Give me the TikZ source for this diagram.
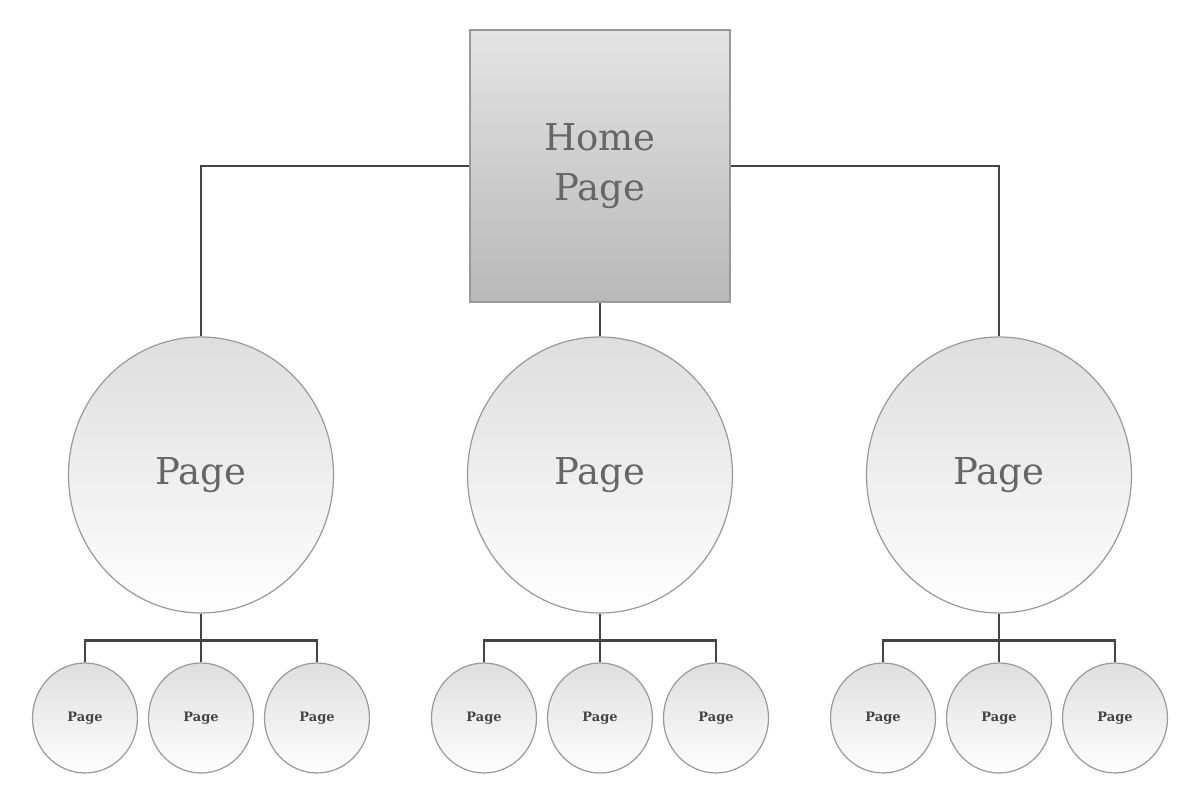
\documentclass[tikz,border=0pt]{standalone}
\usepackage{fontspec}
\setmainfont{DejaVu Serif}
\usetikzlibrary{shapes.geometric}
\definecolor{boxtop}{HTML}{E4E4E4}
\definecolor{boxbot}{HTML}{B8B8B8}
\definecolor{circtop}{HTML}{DEDEDE}
\definecolor{circbot}{HTML}{FFFFFF}
\definecolor{edge}{HTML}{999999}
\definecolor{txt}{HTML}{666666}
\definecolor{link}{HTML}{444444}
\tikzset{
  homebox/.style={draw=edge, line width=1.5pt, top color=boxtop, bottom color=boxbot,
    minimum width=260pt, minimum height=272pt, inner sep=0pt, text=txt,
    align=center, font=\fontsize{37}{50}\selectfont},
  bigpage/.style={ellipse, draw=edge, line width=1.2pt, top color=circtop, bottom color=circbot,
    minimum width=265pt, minimum height=276pt, inner sep=0pt, text=txt,
    font=\fontsize{37}{44}\selectfont},
  smallpage/.style={ellipse, draw=edge, line width=1.2pt, top color=circtop, bottom color=circbot,
    minimum width=105pt, minimum height=110pt, inner sep=0pt, text=link,
    font=\bfseries\fontsize{13}{16}\selectfont},
  conn/.style={draw=link, line width=2.2pt}
}
\begin{document}
\begin{tikzpicture}[x=1pt,y=-1pt]
\useasboundingbox (0,0) rectangle (1200,800);
\node[homebox] (home) at (600,166) {Home\\Page};
\node[bigpage] (p1) at (201,475) {Page};
\node[bigpage] (p2) at (600,475) {Page};
\node[bigpage] (p3) at (999,475) {Page};
\foreach \g/\a/\b/\c in {1/85/201/317, 2/484/600/716, 3/883/999/1115}{
  \node[smallpage] (s\g a) at (\a,718) {Page};
  \node[smallpage] (s\g b) at (\b,718) {Page};
  \node[smallpage] (s\g c) at (\c,718) {Page};
  \draw[conn] (p\g.south) -- (s\g b.north);
  \draw[conn] (s\g a.north) -- ++(0,-22) -| (s\g c.north);
}
\draw[conn] (home.west) -| (p1.north);
\draw[conn] (home.east) -| (p3.north);
\draw[conn] (home.south) -- (p2.north);
\end{tikzpicture}
\end{document}
